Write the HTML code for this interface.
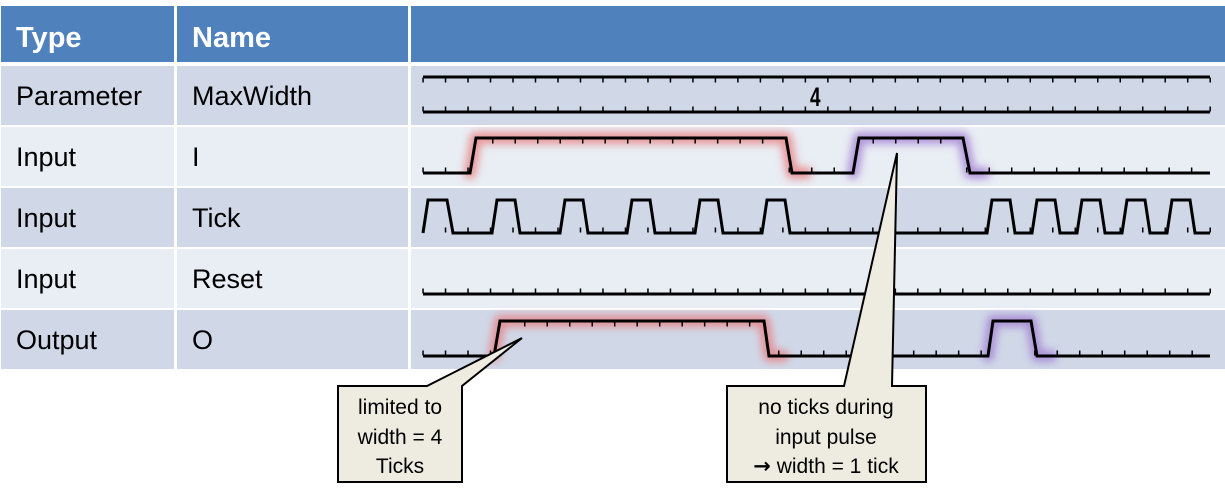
<!DOCTYPE html>
<html><head><meta charset="utf-8"><style>
body{margin:0;background:#fff;width:1225px;height:497px;overflow:hidden}
svg{display:block}
text{font-family:"Liberation Sans",sans-serif}
</style></head><body>
<svg width="1225" height="497" viewBox="0 0 1225 497" xmlns="http://www.w3.org/2000/svg">
<defs>
<filter id="g" x="-20%" y="-50%" width="140%" height="200%"><feGaussianBlur stdDeviation="4"/></filter>
</defs>
<rect x="1" y="6" width="173" height="56" fill="#4f81bd"/>
<rect x="177" y="6" width="231" height="56" fill="#4f81bd"/>
<rect x="411" y="6" width="814" height="56" fill="#4f81bd"/>
<text x="16" y="47" font-size="29" font-weight="bold" fill="#fff">Type</text>
<text x="192" y="47" font-size="29" font-weight="bold" fill="#fff">Name</text>
<g>
<rect x="1" y="66" width="173" height="59" fill="#d0d8e8"/><rect x="177" y="66" width="231" height="59" fill="#d0d8e8"/><rect x="411" y="66" width="814" height="59" fill="#d0d8e8"/>
<rect x="1" y="127" width="173" height="59" fill="#e9edf4"/><rect x="177" y="127" width="231" height="59" fill="#e9edf4"/><rect x="411" y="127" width="814" height="59" fill="#e9edf4"/>
<rect x="1" y="188" width="173" height="59" fill="#d0d8e8"/><rect x="177" y="188" width="231" height="59" fill="#d0d8e8"/><rect x="411" y="188" width="814" height="59" fill="#d0d8e8"/>
<rect x="1" y="249" width="173" height="59" fill="#e9edf4"/><rect x="177" y="249" width="231" height="59" fill="#e9edf4"/><rect x="411" y="249" width="814" height="59" fill="#e9edf4"/>
<rect x="1" y="310" width="173" height="59" fill="#d0d8e8"/><rect x="177" y="310" width="231" height="59" fill="#d0d8e8"/><rect x="411" y="310" width="814" height="59" fill="#d0d8e8"/>
</g>
<g font-size="27" fill="#000">
<text x="16" y="105">Parameter</text><text x="192" y="105">MaxWidth</text>
<text x="16" y="166">Input</text><text x="192" y="166">I</text>
<text x="16" y="227">Input</text><text x="192" y="227">Tick</text>
<text x="16" y="288">Input</text><text x="192" y="288">Reset</text>
<text x="16" y="349">Output</text><text x="192" y="349">O</text>
</g>
<g filter="url(#g)" fill="none" stroke-width="12" stroke-linejoin="round" stroke-linecap="round">
<polyline points="470,173 476,138 786,138 792,173 806,173" stroke="#e87a7a" opacity="0.75"/>
<polyline points="853,173 859,138 963,138 970,173 984,173" stroke="#a07ad0" opacity="0.75"/>
<polyline points="494,356 500,321 764,321 769,356 783,356" stroke="#e87a7a" opacity="0.75"/>
<polyline points="988,356 993,321 1031,321 1037,356 1051,356" stroke="#a07ad0" opacity="0.75"/>
</g>
<g fill="none" stroke="#000" stroke-width="3" stroke-linejoin="miter">
<line x1="423" y1="77" x2="1210" y2="77"/>
<line x1="423" y1="112" x2="1210" y2="112"/>
<polyline points="423,173 470,173 476,138 786,138 792,173 853,173 859,138 963,138 970,173 1210,173"/>
<polyline points="423,233 428,200 447,200 453,233 492,233 497,200 515,200 520,233 560,233 565,200 583,200 588,233 627,233 632,200 650,200 655,233 695,233 700,200 718,200 723,233 762,233 767,200 785,200 790,233 987,233 992,200 1010,200 1015,233 1032,233 1037,200 1055,200 1060,233 1077,233 1082,200 1100,200 1105,233 1122,233 1127,200 1145,200 1150,233 1167,233 1172,200 1190,200 1195,233 1210,233"/>
<line x1="423" y1="294" x2="1210" y2="294"/>
<polyline points="423,356 494,356 500,321 764,321 769,356 988,356 993,321 1031,321 1037,356 1210,356"/>
</g>
<g stroke="#000" stroke-width="5" stroke-dasharray="1.5 20.99" fill="none">
<line x1="422.3" y1="80" x2="1212" y2="80"/>
<line x1="422.3" y1="109" x2="1212" y2="109"/>
<line x1="422.3" y1="170" x2="470" y2="170"/>
<line x1="782" y1="170" x2="854" y2="170" stroke-dashoffset="-6.5"/>
<line x1="962" y1="170" x2="1212" y2="170" stroke-dashoffset="-4"/>
<line x1="480" y1="141" x2="784" y2="141" stroke-dashoffset="-12"/>
<line x1="870" y1="141" x2="960" y2="141" stroke-dashoffset="-2.5"/>
<line x1="422.3" y1="230" x2="1212" y2="230"/>
<line x1="422.3" y1="291" x2="1212" y2="291"/>
<line x1="422.3" y1="353" x2="494" y2="353"/>
<line x1="774" y1="353" x2="988" y2="353" stroke-dashoffset="-4"/>
<line x1="1030" y1="353" x2="1212" y2="353" stroke-dashoffset="-4"/>
<line x1="512" y1="324" x2="762" y2="324" stroke-dashoffset="-12"/>
</g>
<text x="810" y="106" font-size="27" font-weight="bold" font-family="Liberation Mono,monospace" transform="translate(810 0) scale(0.7 1) translate(-810 0)">4</text>
<g fill="#eeece1" stroke="#000" stroke-width="2" stroke-linejoin="miter">
<path d="M338,386 L427,386 L522,338 L462,386 L462,482 L338,482 Z"/>
<path d="M727,386 L844,386 L897,153 L892,386 L926,386 L926,482 L727,482 Z"/>
</g>
<g font-size="21" text-anchor="middle" fill="#000">
<text x="400" y="414">limited to</text>
<text x="400" y="444">width = 4</text>
<text x="400" y="473">Ticks</text>
<text x="826" y="414">no ticks during</text>
<text x="826" y="444">input pulse</text>
<text x="826" y="473"><tspan font-family="DejaVu Sans" font-weight="bold">→</tspan> width = 1 tick</text>
</g>
</svg>
</body></html>
